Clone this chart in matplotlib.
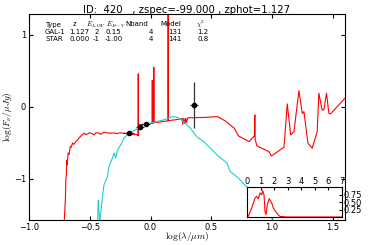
import numpy as np
import matplotlib
matplotlib.use('Agg')
import matplotlib.pyplot as plt

plt.rcParams['mathtext.fontset'] = 'cm'

# galaxy template (GAL-1), log(lambda/um) vs log(F_nu/uJy)
gal_logl = [-0.711, -0.700, -0.697, -0.693, -0.689, -0.686, -0.678, -0.670, -0.661, -0.652,
            -0.642, -0.630, -0.615, -0.600, -0.588, -0.570, -0.547, -0.535, -0.520, -0.505,
            -0.492, -0.480, -0.465, -0.450, -0.430, -0.410, -0.383, -0.360, -0.328, -0.300,
            -0.280, -0.250, -0.219, -0.190, -0.160, -0.130, -0.109, -0.103, -0.101, -0.099,
            -0.096, -0.070, -0.050, -0.020, 0.000, 0.013, 0.0145, 0.016, 0.025, 0.027,
            0.029, 0.050, 0.080, 0.110, 0.143, 0.145, 0.147, 0.200, 0.250, 0.262,
            0.265, 0.275, 0.280, 0.290, 0.295, 0.305, 0.310, 0.350, 0.450, 0.552,
            0.620, 0.689, 0.724, 0.811, 0.855, 0.858, 0.861, 0.875, 0.975, 0.994,
            1.098, 1.125, 1.153, 1.180, 1.221, 1.248, 1.262, 1.295, 1.330, 1.371,
            1.385, 1.412, 1.426, 1.448, 1.467, 1.481, 1.604]
gal_logf = [-1.62, -1.25, -1.01, -0.95, -0.74, -0.80, -0.64, -0.66, -0.55, -0.56,
            -0.50, -0.52, -0.48, -0.46, -0.43, -0.40, -0.365, -0.38, -0.38, -0.36,
            -0.365, -0.37, -0.39, -0.36, -0.36, -0.38, -0.35, -0.36, -0.365, -0.36,
            -0.37, -0.36, -0.365, -0.37, -0.38, -0.38, -0.39, -0.40, 0.46, -0.40,
            -0.25, -0.245, -0.24, -0.235, -0.23, -0.225, 0.37, -0.225, -0.22, 0.55,
            -0.22, -0.215, -0.21, -0.20, -0.195, 1.50, -0.19, -0.18, -0.165, -0.16,
            -0.24, -0.16, -0.23, -0.16, -0.22, -0.155, -0.15, -0.15, -0.145, -0.135,
            -0.20, -0.296, -0.403, -0.482, -0.40, -0.111, -0.45, -0.542, -0.621, -0.681,
            -0.560, 0.042, -0.389, -0.343, 0.226, -0.088, -0.065, -0.504, -0.574, -0.343,
            0.190, -0.042, -0.042, 0.190, -0.088, -0.097, 0.129]

# stellar template (STAR)
star_logl = [-0.436, -0.430, -0.424, -0.418, -0.396, -0.383, -0.355, -0.342, -0.314, -0.300,
             -0.287, -0.273, -0.246, -0.219, -0.178, -0.123, -0.068, 0.000, 0.082, 0.109,
             0.178, 0.219, 0.273, 0.328, 0.383, 0.437, 0.547, 0.629, 0.656, 0.711,
             0.793, 1.008, 1.050]
star_logf = [-1.62, -1.30, -1.45, -1.62, -1.25, -1.08, -0.97, -0.83, -0.71, -0.64,
             -0.71, -0.60, -0.53, -0.435, -0.365, -0.32, -0.25, -0.226, -0.19, -0.18,
             -0.135, -0.143, -0.204, -0.296, -0.42, -0.48, -0.667, -0.78, -0.90, -0.97,
             -1.11, -1.57, -1.65]

# observed photometry
obs_logl = [-0.178, -0.088, -0.041, 0.355]
obs_logf = [-0.365, -0.282, -0.240, 0.028]
obs_xerr = [0.045, 0.035, 0.035, 0.033]
obs_yerr = [0.02, 0.03, 0.03, 0.32]

# photo-z PDF
pdf_z = [0.0, 0.07, 0.33, 0.57, 0.70, 0.82, 0.94, 1.07, 1.14, 1.24,
         1.31, 1.39, 1.48, 1.63, 1.81, 1.93, 2.18, 2.42, 3.0, 7.0]
pdf_p = [0.0, 0.02, 0.30, 0.63, 0.69, 0.61, 0.80, 0.74, 0.88, 0.74,
         0.19, 0.08, 0.41, 0.61, 0.47, 0.30, 0.13, 0.02, 0.0, 0.0]

# table of fits (text, x pixel, alignment)
header = [('Type', 45, 'left'), ('z', 75, 'center'), ('$E_{LAW}$', 86, 'left'),
          ('$E_{B-V}$', 106, 'left'), ('Nband', 125, 'left'), ('Model', 160, 'left'),
          ('$\\chi^2$', 196, 'left')]
row_gal = [('GAL-1', 45, 'left'), ('1.127', 69, 'left'), ('2', 97, 'center'),
           ('0.15', 106, 'left'), ('4', 151, 'center'), ('131', 168, 'left'),
           ('1.2', 197, 'left')]
row_star = [('STAR', 45, 'left'), ('0.000', 69, 'left'), ('-1', 93, 'left'),
            ('-1.00', 105, 'left'), ('4', 151, 'center'), ('141', 168, 'left'),
            ('0.8', 197, 'left')]

W, H = 368, 245
fig = plt.figure(figsize=(W / 100, H / 100), dpi=100)
ax = fig.add_axes([29 / W, 1 - 220 / H, 316 / W, 206 / H])

ax.plot(gal_logl, gal_logf, color='red', lw=0.8)
ax.plot(star_logl, star_logf, color='#22cccc', lw=0.8)
ax.errorbar(obs_logl, obs_logf, xerr=obs_xerr, yerr=obs_yerr, fmt='o', color='black',
            ms=3, elinewidth=0.9, ecolor='#333333', capsize=0, zorder=5)

ax.set_xlim(-1.0, 1.6)
ax.set_ylim(-1.57, 1.29)
ax.set_xticks([-1.0, -0.5, 0.0, 0.5, 1.0, 1.5])
ax.set_yticks([-1, 0, 1])
ax.tick_params(direction='in', top=True, right=True, labelsize=6, length=3, pad=2)
ax.set_xlabel(r'$\log(\lambda/\mu m)$', fontsize=6.8)
ax.set_ylabel(r'$\log(F_{\nu}/\mu Jy)$', fontsize=6.8)
ax.xaxis.set_label_coords(0.5, -0.05)
ax.yaxis.set_label_coords(-0.047, 0.5)
ax.set_title('ID:  420   , zspec=-99.000 , zphot=1.127', fontsize=7.3, pad=0.5)

for row, py in ((header, 24.5), (row_gal, 32), (row_star, 39)):
    for txt, px, ha in row:
        fig.text(px / W, 1 - py / H, txt, fontsize=5, ha=ha, va='center')

ins = fig.add_axes([247.3 / W, 1 - 217 / H, 94.4 / W, 30 / H])
ins.plot(pdf_z, pdf_p, color='red', lw=0.8)
ins.set_xlim(0, 7)
ins.set_ylim(0, 1)
ins.set_xticks(range(8))
ins.set_yticks([0.25, 0.50, 0.75])
ins.xaxis.tick_top()
ins.yaxis.tick_right()
ins.tick_params(direction='in', labelsize=6, length=2, pad=1)
ins.set_yticklabels(['0.25', '0.50', '0.75'])

fig.savefig('out.png', dpi=100)
